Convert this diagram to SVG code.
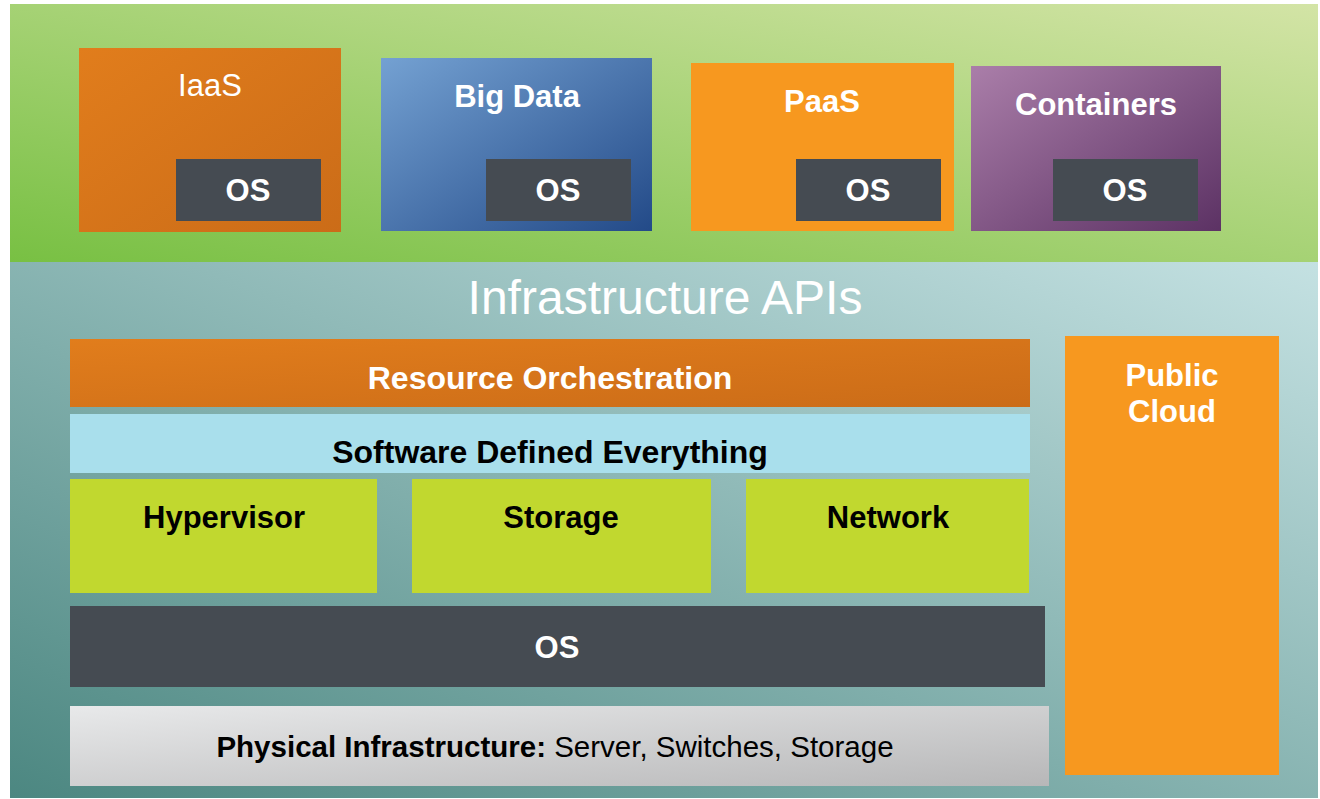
<svg xmlns="http://www.w3.org/2000/svg" width="1320" height="799" viewBox="0 0 1320 799">
<defs>
<linearGradient id="gTop" x1="0" y1="1" x2="1" y2="0"><stop offset="0" stop-color="#78c043"/><stop offset="1" stop-color="#d3e4a6"/></linearGradient>
<linearGradient id="gBot" x1="0" y1="1" x2="1" y2="0"><stop offset="0" stop-color="#4c8781"/><stop offset="1" stop-color="#c4e1e2"/></linearGradient>
<linearGradient id="gOr" x1="0" y1="0" x2="1" y2="1"><stop offset="0" stop-color="#e17d1c"/><stop offset="1" stop-color="#cb6c18"/></linearGradient>
<linearGradient id="gBl" x1="0" y1="0" x2="1" y2="1"><stop offset="0" stop-color="#74a1d2"/><stop offset="1" stop-color="#234a88"/></linearGradient>
<linearGradient id="gPu" x1="0" y1="0" x2="1" y2="1"><stop offset="0" stop-color="#aa7ea9"/><stop offset="1" stop-color="#5c3264"/></linearGradient>
<linearGradient id="gGr" x1="0" y1="0" x2="1" y2="1"><stop offset="0" stop-color="#e8e9ea"/><stop offset="1" stop-color="#b7b7b8"/></linearGradient>
</defs>
<style>
text{font-family:"Liberation Sans",Arial,sans-serif;text-anchor:middle}
.w{fill:#ffffff}
.k{fill:#000000}
.b{font-weight:bold}
.os{fill:#454b52}
.lime{fill:#c1d82f}
</style>
<rect x="10" y="4" width="1308" height="258" fill="url(#gTop)"/>
<rect x="10" y="262" width="1308" height="536" fill="url(#gBot)"/>
<text class="w" x="665" y="314" font-size="48">Infrastructure APIs</text>

<g id="iaas">
<rect x="79" y="48" width="262" height="184" fill="url(#gOr)"/>
<text class="w" x="210" y="96" font-size="31">IaaS</text>
<rect class="os" x="176" y="159" width="145" height="62"/>
<text class="w b" x="248" y="201" font-size="31">OS</text>
</g>
<g id="bigdata">
<rect x="381" y="58" width="271" height="173" fill="url(#gBl)"/>
<text class="w b" x="517" y="107" font-size="31">Big Data</text>
<rect class="os" x="486" y="159" width="145" height="62"/>
<text class="w b" x="558" y="201" font-size="31">OS</text>
</g>
<g id="paas">
<rect x="691" y="63" width="263" height="168" fill="#f7981f"/>
<text class="w b" x="822" y="112" font-size="31">PaaS</text>
<rect class="os" x="796" y="159" width="145" height="62"/>
<text class="w b" x="868" y="201" font-size="31">OS</text>
</g>
<g id="containers">
<rect x="971" y="66" width="250" height="165" fill="url(#gPu)"/>
<text class="w b" x="1096" y="115" font-size="31">Containers</text>
<rect class="os" x="1053" y="159" width="145" height="62"/>
<text class="w b" x="1125" y="201" font-size="31">OS</text>
</g>

<g id="orchestration">
<rect x="70" y="339" width="960" height="68" fill="url(#gOr)"/>
<text class="w b" x="550" y="389" font-size="32">Resource Orchestration</text>
</g>
<g id="sde">
<rect x="70" y="414" width="960" height="59" fill="#a9dfec"/>
<text class="k b" x="550" y="463" font-size="32">Software Defined Everything</text>
</g>
<g id="hypervisor">
<rect class="lime" x="70" y="479" width="307" height="114"/>
<text class="k b" x="224" y="528" font-size="31">Hypervisor</text>
</g>
<g id="storage">
<rect class="lime" x="412" y="479" width="299" height="114"/>
<text class="k b" x="561" y="528" font-size="31">Storage</text>
</g>
<g id="network">
<rect class="lime" x="746" y="479" width="283" height="114"/>
<text class="k b" x="888" y="528" font-size="31">Network</text>
</g>
<g id="os-main">
<rect class="os" x="70" y="606" width="975" height="81"/>
<text class="w b" x="557" y="658" font-size="31">OS</text>
</g>
<g id="physical">
<rect x="70" y="706" width="979" height="80" fill="url(#gGr)"/>
<text class="k" x="555" y="757" font-size="29.5"><tspan font-weight="bold">Physical Infrastructure:</tspan> Server, Switches, Storage</text>
</g>
<g id="publiccloud">
<rect x="1065" y="336" width="214" height="439" fill="#f7981f"/>
<text class="w b" x="1172" y="386" font-size="31">Public</text>
<text class="w b" x="1172" y="422" font-size="31">Cloud</text>
</g>
<g id="connectors"></g>
</svg>
